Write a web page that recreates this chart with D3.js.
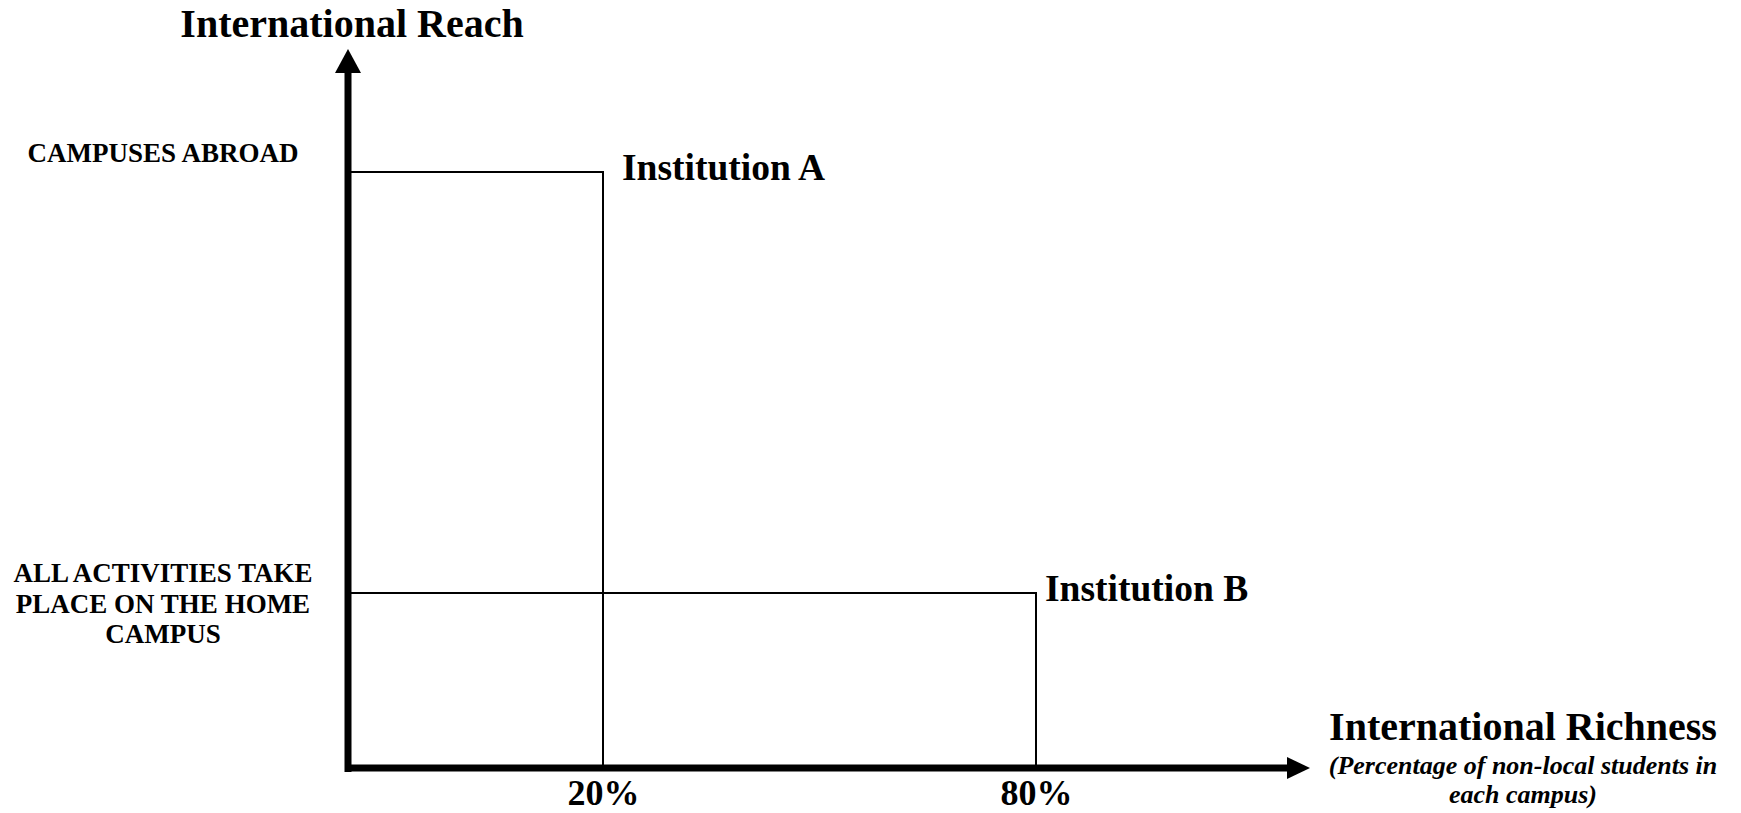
<!DOCTYPE html>
<html>
  <head>
    <meta charset="utf-8">
    <title>International Reach vs Richness</title>
    <script src="https://d3js.org/d3.v7.min.js"></script>
    <style>
      body { margin: 0; background: #fff; }
      text { font-family: "Liberation Serif", "Times New Roman", serif; font-weight: bold; fill: #000; }
      .inst { fill: none; stroke: #000; stroke-width: 2; }
    </style>
  </head>
  <body>
    <svg width="1741" height="813"></svg>

    <script>
      // the data
      const institutions = ["Institution A", "Institution B"];
      const richness = [20, 80];      // % of non-local students
      const reach = [2, 1];           // level on the reach axis
      const xTicks = [20, 80];
      const reachLevels = [
        { level: 1, lines: ["ALL ACTIVITIES TAKE", "PLACE ON THE HOME", "CAMPUS"] },
        { level: 2, lines: ["CAMPUSES ABROAD"] }
      ];

      let svg = d3.select("svg");

      // conceptual axes, not to scale
      let xScale = d3.scaleLinear()
        .domain([0, 20, 80, 100])
        .range([348, 603, 1036, 1310]);

      let yScale = d3.scaleLinear()
        .domain([0, 1, 2, 3])
        .range([768, 593, 172, 49]);

      let x0 = xScale(0), y0 = yScale(0);
      let xEnd = xScale(100), yEnd = yScale(3);

      // institution boxes
      svg.selectAll(".inst")
        .data(institutions)
        .enter().append("path")
          .attr("class", "inst")
          .attr("d", function(d, i) {
            return "M" + x0 + "," + yScale(reach[i]) + "H" + xScale(richness[i]) + "V" + y0;
          });

      let labelDx = [19, 9];
      let labelDy = [8, 8];
      svg.selectAll(".inst-label")
        .data(institutions)
        .enter().append("text")
          .attr("class", "inst-label")
          .attr("x", function(d, i) { return xScale(richness[i]) + labelDx[i]; })
          .attr("y", function(d, i) { return yScale(reach[i]) + labelDy[i]; })
          .style("font-size", "37.5px")
          .text(function(d) { return d; });

      // axis lines with arrow heads
      svg.append("line")
        .attr("x1", x0).attr("y1", y0 + 4)
        .attr("x2", x0).attr("y2", yEnd + 24)
        .attr("stroke", "#000").attr("stroke-width", 7);
      svg.append("path")
        .attr("d", "M" + (x0 - 13) + "," + (yEnd + 24) + "L" + (x0 + 13) + "," + (yEnd + 24) + "L" + x0 + "," + yEnd + "Z");

      svg.append("line")
        .attr("x1", x0 - 3).attr("y1", y0)
        .attr("x2", xEnd - 23).attr("y2", y0)
        .attr("stroke", "#000").attr("stroke-width", 7);
      svg.append("path")
        .attr("d", "M" + (xEnd - 23) + "," + (y0 - 11) + "L" + (xEnd - 23) + "," + (y0 + 11) + "L" + xEnd + "," + y0 + "Z");

      // x tick labels
      let xAxis = svg.append("g")
        .attr("transform", "translate(0," + y0 + ")")
        .call(d3.axisBottom(xScale)
          .tickValues(xTicks)
          .tickSize(0)
          .tickPadding(11)
          .tickFormat(function(d) { return d + "%"; }));
      xAxis.select(".domain").remove();
      xAxis.selectAll("text")
        .attr("fill", "#000")
        .style("font-family", "Liberation Serif")
        .style("font-weight", "bold")
        .style("font-size", "36px");

      // y level labels
      svg.selectAll(".level")
        .data(reachLevels)
        .enter().append("text")
          .attr("class", "level")
          .attr("text-anchor", "middle")
          .attr("y", function(d) { return d.level == 2 ? yScale(d.level) - 10 : yScale(d.level) - 11; })
          .style("font-size", "27px")
          .selectAll("tspan")
          .data(function(d) { return d.lines; })
          .enter().append("tspan")
            .attr("x", 163)
            .attr("dy", function(d, i) { return i == 0 ? 0 : 30.5; })
            .text(function(d) { return d; });

      // axis titles
      svg.append("text")
        .attr("text-anchor", "middle")
        .attr("x", 352)
        .attr("y", 37)
        .style("font-size", "40px")
        .text("International Reach");

      svg.append("text")
        .attr("text-anchor", "middle")
        .attr("x", 1523)
        .attr("y", 740)
        .style("font-size", "40px")
        .text("International Richness");

      svg.append("text")
        .attr("text-anchor", "middle")
        .attr("y", 774)
        .style("font-size", "26px")
        .style("font-style", "italic")
        .selectAll("tspan")
        .data(["(Percentage of non-local students in", "each campus)"])
        .enter().append("tspan")
          .attr("x", 1523)
          .attr("dy", function(d, i) { return i == 0 ? 0 : 29; })
          .text(function(d) { return d; });
    </script>
  </body>
</html>
